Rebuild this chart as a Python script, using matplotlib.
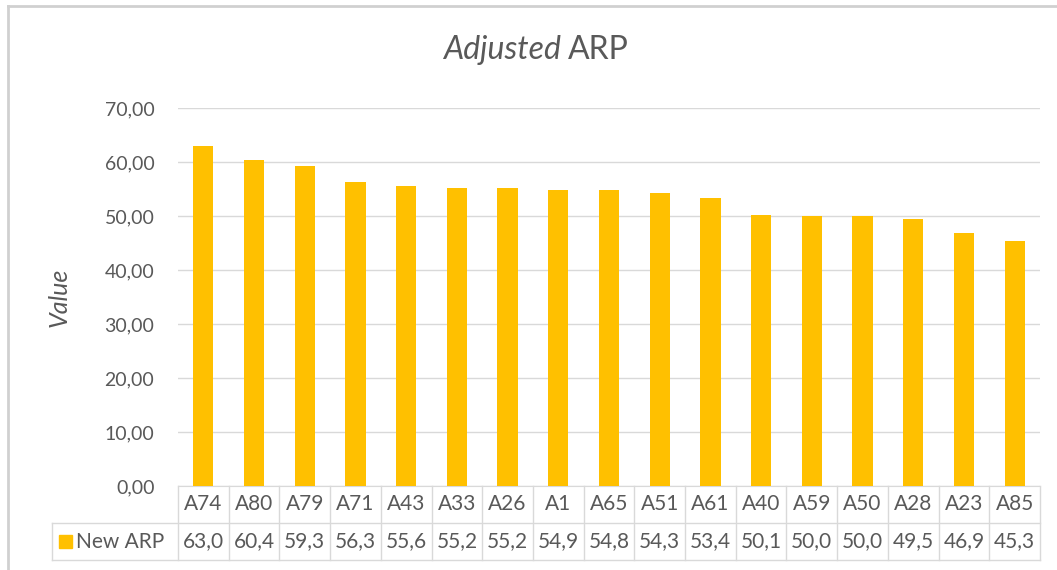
import matplotlib
matplotlib.use("Agg")
import matplotlib.pyplot as plt
from matplotlib.lines import Line2D
from matplotlib.patches import Rectangle
import matplotlib.transforms as mtransforms

plt.rcParams["font.family"] = ["Lato", "DejaVu Sans"]

# ── Data ──────────────────────────────────────────────────────────────────────
categories = ["A74", "A80", "A79", "A71", "A43", "A33", "A26", "A1", "A65",
              "A51", "A61", "A40", "A59", "A50", "A28", "A23", "A85"]
new_arp = [63.0, 60.4, 59.3, 56.3, 55.6, 55.2, 55.2, 54.9, 54.8,
           54.3, 53.4, 50.1, 50.0, 50.0, 49.5, 46.9, 45.3]
series_name = "New ARP"
y_ticks = [0, 10, 20, 30, 40, 50, 60, 70]

BAR = "#FFC000"
TXT = "#595959"
GRID = "#D9D9D9"
FS = 15

W, H = 1057, 570
fig = plt.figure(figsize=(W / 100, H / 100), dpi=100)

# plot area in pixels
px_l, px_r, px_t, px_b = 178, 1040, 108, 486
ax = fig.add_axes([px_l / W, (H - px_b) / H, (px_r - px_l) / W, (px_b - px_t) / H])

n = len(categories)
x = list(range(n))
ax.bar(x, new_arp, width=0.4, color=BAR, zorder=3)

ax.set_xlim(-0.5, n - 0.5)
ax.set_ylim(0, 70)
ax.set_yticks(y_ticks)
ax.set_yticklabels([f"{v:.2f}".replace(".", ",") for v in y_ticks],
                   fontsize=14, color=TXT)
ax.set_xticks([])
ax.tick_params(axis="y", length=0, pad=17)
ax.grid(axis="y", color=GRID, lw=1, zorder=0)
for s in ["top", "right", "left"]:
    ax.spines[s].set_visible(False)
ax.spines["bottom"].set_color(GRID)

ax.set_ylabel("Value", fontsize=18, color=TXT, style="italic")
ax.yaxis.set_label_coords((71 - px_l) / (px_r - px_l), 0.5)

# title: "Adjusted" italic + "ARP" upright
ty = (H - 50) / H
fig.text(568 / W, ty, "Adjusted ", ha="right", va="center",
         fontsize=23, style="italic", color=TXT)
fig.text(568 / W, ty, "ARP", ha="left", va="center",
         fontsize=23, color=TXT)

# ── Data table below the axis ────────────────────────────────────────────────
row_h = 37 / (px_b - px_t)          # one table row in axes fraction
lab_left = -(px_l - 52) / (px_r - px_l)  # label column left edge (axes frac)
trans = mtransforms.blended_transform_factory(ax.transData, ax.transAxes)

def hline(x0, x1, y, tr):
    ax.add_line(Line2D([x0, x1], [y, y], transform=tr, color=GRID, lw=1,
                       clip_on=False))

def vline(xv, y0, y1, tr):
    ax.add_line(Line2D([xv, xv], [y0, y1], transform=tr, color=GRID, lw=1,
                       clip_on=False))

for i in range(n + 1):
    vline(i - 0.5, 0, -2 * row_h, trans)
vline(lab_left, -row_h, -2 * row_h, ax.transAxes)
hline(lab_left, 1, -row_h, ax.transAxes)
hline(lab_left, 1, -2 * row_h, ax.transAxes)

for i, (c, v) in enumerate(zip(categories, new_arp)):
    ax.text(i, -0.5 * row_h, c, transform=trans, ha="center", va="center",
            fontsize=FS, color=TXT)
    ax.text(i, -1.5 * row_h, f"{v:.1f}".replace(".", ","), transform=trans,
            ha="center", va="center", fontsize=FS, color=TXT)

# legend key + series name
key_w = 13 / (px_r - px_l)
key_h = 13 / (px_b - px_t)
kx = (59 - px_l) / (px_r - px_l)
ax.add_patch(Rectangle((kx, -1.5 * row_h - key_h / 2), key_w, key_h,
                       transform=ax.transAxes, color=BAR, clip_on=False))
ax.text((76 - px_l) / (px_r - px_l), -1.5 * row_h, series_name,
        transform=ax.transAxes, ha="left", va="center", fontsize=FS,
        color=TXT)

# chart frame (only top/left visible in the crop)
fig.add_artist(Line2D([8 / W, 8 / W], [0, (H - 6) / H], transform=fig.transFigure,
                      color="#D0D0D0", lw=2))
fig.add_artist(Line2D([8 / W, 1], [(H - 6) / H, (H - 6) / H],
                      transform=fig.transFigure, color="#D0D0D0", lw=2))

fig.savefig("out.png", dpi=100, facecolor="white")
